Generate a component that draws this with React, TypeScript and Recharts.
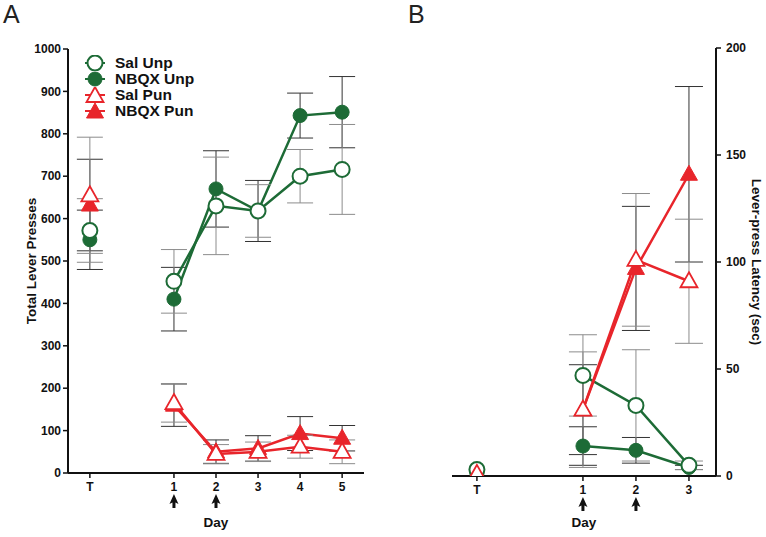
import { LineChart, Line, XAxis, YAxis, ErrorBar } from "recharts";

// shared
const GREEN = "#1d6b36";
const RED = "#e8252b";
const DARK_BAR = "#333333";
const GRAY_BAR = "#8c8c8c";
const FONT = "Arial, 'Liberation Sans', Helvetica, sans-serif";

// panel A: total lever presses (day -1 = T, day 0 = gap)
const daysA = [-1, 0, 1, 2, 3, 4, 5];
const salUnpA = [572, null, 452, 630, 618, 700, 716];
const salUnpAErr = [75, null, 75, 115, 62, 63, 106];
const nbqxUnpA = [550, null, 410, 670, 618, 843, 851];
const nbqxUnpAErr = [70, null, 75, 90, 72, 53, 84];
const salPunA = [655, null, 165, 45, 50, 62, 50];
const salPunAErr = [137, null, 45, 22, 23, 27, 28];
const nbqxPunA = [632, null, 160, 50, 58, 93, 82];
const nbqxPunAErr = [108, null, 50, 28, 30, 40, 30];
const yTicksA = [0, 100, 200, 300, 400, 500, 600, 700, 800, 900, 1000];
const xTicksA = [-1, 1, 2, 3, 4, 5];

// panel B: lever-press latency (sec)
const daysB = [-1, 0, 1, 2, 3];
const salUnpB = [3, null, 47, 33, 5];
const salUnpBErr = [null, null, 19, 26, 2];
const nbqxUnpB = [1, null, 14, 12, 4];
const nbqxUnpBErr = [null, null, 9, 6, 1];
const salPunB = [1, null, 31, 101, 91];
const salPunBErr = [null, null, 27, 31, 29];
const nbqxPunB = [0, null, 31, 97, 141];
const nbqxPunBErr = [null, null, 21, 29, 41];
const yTicksB = [0, 50, 100, 150, 200];
const xTicksB = [-1, 1, 2, 3];

const arrowDays = [1, 2];
const legendItems = [
  { name: "Sal Unp", kind: "openCircle", color: GREEN },
  { name: "NBQX Unp", kind: "fillCircle", color: GREEN },
  { name: "Sal Pun", kind: "openTri", color: RED },
  { name: "NBQX Pun", kind: "fillTri", color: RED },
];

const dataA = daysA.map((d, i) => ({
  day: d,
  salUnp: salUnpA[i], salUnpErr: salUnpAErr[i],
  nbqxUnp: nbqxUnpA[i], nbqxUnpErr: nbqxUnpAErr[i],
  salPun: salPunA[i], salPunErr: salPunAErr[i],
  nbqxPun: nbqxPunA[i], nbqxPunErr: nbqxPunAErr[i],
}));

const dataB = daysB.map((d, i) => ({
  day: d,
  salUnp: salUnpB[i], salUnpErr: salUnpBErr[i],
  nbqxUnp: nbqxUnpB[i], nbqxUnpErr: nbqxUnpBErr[i],
  salPun: salPunB[i], salPunErr: salPunBErr[i],
  nbqxPun: nbqxPunB[i], nbqxPunErr: nbqxPunBErr[i],
}));

const Marker = ({ kind, color, cx, cy }: any) => {
  if (kind === "openCircle")
    return <circle cx={cx} cy={cy} r={7.5} fill="#fff" stroke={color} strokeWidth={2} />;
  if (kind === "fillCircle")
    return <circle cx={cx} cy={cy} r={7} fill={color} stroke={color} strokeWidth={1} />;
  const pts = `${cx},${cy - 9} ${cx + 8.5},${cy + 6} ${cx - 8.5},${cy + 6}`;
  if (kind === "openTri")
    return <polygon points={pts} fill="#fff" stroke={color} strokeWidth={1.8} strokeLinejoin="miter" />;
  return <polygon points={pts} fill={color} stroke={color} strokeWidth={1} />;
};

const makeDot = (kind: string, color: string) => (props: any) => {
  const { cx, cy, value, index } = props;
  if (cx == null || cy == null || value == null) return <g key={`e-${index}`} />;
  return (
    <g key={`d-${index}`}>
      <Marker kind={kind} color={color} cx={cx} cy={cy} />
    </g>
  );
};

const DayTick = (props: any) => {
  const { x, y, payload } = props;
  const v = payload.value;
  const label = v === -1 ? "T" : String(v);
  return (
    <g>
      <text x={x} y={y + 11} textAnchor="middle" fontFamily={FONT} fontWeight="bold" fontSize={12} fill="#111">
        {label}
      </text>
      {arrowDays.includes(v) && (
        <polygon
          points={`${x},${y + 14} ${x + 4.5},${y + 24} ${x + 1.5},${y + 22.5} ${x + 1.5},${y + 28} ${x - 1.5},${y + 28} ${x - 1.5},${y + 22.5} ${x - 4.5},${y + 24}`}
          fill="#111"
        />
      )}
    </g>
  );
};

const LegendBox = () => (
  <div style={{ fontFamily: FONT, fontWeight: "bold", fontSize: 15.5, lineHeight: "16px", color: "#111" }}>
    {legendItems.map((it) => (
      <div key={it.name} style={{ display: "flex", alignItems: "center", height: 16 }}>
        <svg width={24} height={16} style={{ marginRight: 8 }}>
          <line x1={2} y1={8} x2={22} y2={8} stroke={it.color} strokeWidth={2} />
          <Marker kind={it.kind} color={it.color} cx={12} cy={it.kind.includes("Tri") ? 9 : 8} />
        </svg>
        <span>{it.name}</span>
      </div>
    ))}
  </div>
);

const axisTick = { fontFamily: FONT, fontWeight: "bold", fontSize: 12, fill: "#111" };
const titleStyle = { fontFamily: FONT, fontWeight: "bold", fontSize: 13.5, fill: "#111", textAnchor: "middle" as const };

// NBQX first so the open Sal markers sit on top
const series = [
  { key: "nbqxUnp", kind: "fillCircle", color: GREEN, bar: DARK_BAR },
  { key: "salUnp", kind: "openCircle", color: GREEN, bar: GRAY_BAR },
  { key: "nbqxPun", kind: "fillTri", color: RED, bar: DARK_BAR },
  { key: "salPun", kind: "openTri", color: RED, bar: GRAY_BAR },
];

const renderLines = (capWidth: number) =>
  series.map((s) => (
    <Line
      key={s.key}
      dataKey={s.key}
      stroke={s.color}
      strokeWidth={2.5}
      dot={makeDot(s.kind, s.color)}
      activeDot={false}
      isAnimationActive={false}
      connectNulls={false}
    >
      <ErrorBar dataKey={`${s.key}Err`} direction="y" width={capWidth} stroke={s.bar} strokeWidth={1} />
    </Line>
  ));

export default function App() {
  return (
    <div style={{ position: "relative", width: 766, height: 537, background: "#fff" }}>
      <style>{`body{margin:0}`}</style>
      <div style={{ position: "absolute", left: 3, top: 0, fontFamily: FONT, fontSize: 25, color: "#222" }}>A</div>
      <div style={{ position: "absolute", left: 408, top: 0, fontFamily: FONT, fontSize: 25, color: "#222" }}>B</div>

      <div style={{ position: "absolute", left: 0, top: 0 }}>
        <LineChart width={383} height={537} data={dataA} margin={{ top: 49, right: 19, bottom: 34, left: 8 }}>
          <XAxis
            type="number"
            dataKey="day"
            domain={[-1.52, 5.52]}
            ticks={xTicksA}
            allowDataOverflow
            height={30}
            tickSize={5}
            tickMargin={2}
            tick={<DayTick />}
            axisLine={{ stroke: "#111", strokeWidth: 2 }}
            tickLine={{ stroke: "#111", strokeWidth: 1.5 }}
            label={{ value: "Day", position: "bottom", offset: 14, style: titleStyle }}
          />
          <YAxis
            type="number"
            domain={[0, 1000]}
            ticks={yTicksA}
            allowDataOverflow
            width={60}
            tickSize={5}
            tickMargin={2}
            tick={axisTick}
            axisLine={{ stroke: "#111", strokeWidth: 2 }}
            tickLine={{ stroke: "#111", strokeWidth: 1.5 }}
            label={{ value: "Total Lever Presses", angle: -90, position: "insideLeft", offset: 23, style: titleStyle }}
          />
          {renderLines(13)}
        </LineChart>
      </div>

      <div style={{ position: "absolute", left: 83, top: 55 }}>
        <LegendBox />
      </div>

      <div style={{ position: "absolute", left: 400, top: 0 }}>
        <LineChart width={366} height={537} data={dataB} margin={{ top: 48, right: 10, bottom: 31, left: 52 }}>
          <XAxis
            type="number"
            dataKey="day"
            domain={[-1.47, 3.51]}
            ticks={xTicksB}
            allowDataOverflow
            height={30}
            tickSize={5}
            tickMargin={2}
            tick={<DayTick />}
            axisLine={{ stroke: "#111", strokeWidth: 2 }}
            tickLine={{ stroke: "#111", strokeWidth: 1.5 }}
            label={{ value: "Day", position: "bottom", offset: 11, style: titleStyle }}
          />
          <YAxis
            type="number"
            orientation="right"
            domain={[0, 200]}
            ticks={yTicksB}
            allowDataOverflow
            width={40}
            tickSize={5}
            tickMargin={5}
            tick={axisTick}
            axisLine={{ stroke: "#111", strokeWidth: 2 }}
            tickLine={{ stroke: "#111", strokeWidth: 1.5 }}
            label={{ value: "Lever-press Latency (sec)", angle: 90, position: "right", offset: 1, style: titleStyle }}
          />
          {renderLines(14)}
        </LineChart>
      </div>
    </div>
  );
}
